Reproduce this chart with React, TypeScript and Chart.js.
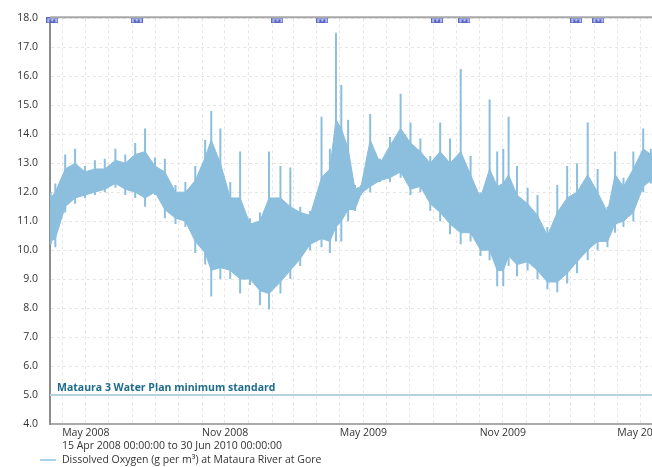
import React, { useEffect, useRef } from "react";
import { Chart, registerables } from "chart.js";

Chart.register(...registerables);

const startDate = "2008-04-15";
const endDate = "2010-06-30";

const dates = [
  "2008-04-16", "2008-04-22", "2008-05-05", "2008-05-18", "2008-05-31", "2008-06-13", "2008-06-26",
  "2008-07-10", "2008-07-23", "2008-08-05", "2008-08-18", "2008-08-31", "2008-09-13", "2008-09-27",
  "2008-10-10", "2008-10-23", "2008-11-05", "2008-11-13", "2008-11-25", "2008-12-08", "2008-12-21",
  "2009-01-03", "2009-01-16", "2009-01-28", "2009-02-12", "2009-02-25", "2009-03-10", "2009-03-23",
  "2009-04-07", "2009-04-18", "2009-04-26", "2009-05-03", "2009-05-12", "2009-05-21", "2009-05-29",
  "2009-06-10", "2009-06-23", "2009-07-06", "2009-07-20", "2009-08-02", "2009-08-15", "2009-08-28",
  "2009-09-10", "2009-09-23", "2009-10-07", "2009-10-20", "2009-11-02", "2009-11-14", "2009-11-24",
  "2009-12-02", "2009-12-09", "2009-12-20", "2010-01-03", "2010-01-16", "2010-01-29", "2010-02-11",
  "2010-02-24", "2010-03-09", "2010-03-23", "2010-04-05", "2010-04-18", "2010-04-28", "2010-05-09",
  "2010-05-22", "2010-06-04", "2010-06-14", "2010-06-27",
];

// extreme (spike) values per period, g/m³
const maxVals = [
  12.0, 12.3, 13.3, 13.5, 12.9, 13.1, 13.15,
  13.5, 13.3, 13.7, 14.2, 13.2, 13.15, 12.25,
  12.35, 12.9, 13.8, 14.8, 14.2, 12.35, 13.4,
  11.1, 11.3, 13.4, 12.9, 12.85, 11.5, 11.35,
  14.6, 13.5, 17.5, 15.7, 14.5, 12.25, 12.25,
  14.7, 13.15, 13.9, 15.4, 14.4, 13.85, 13.25,
  14.4, 13.85, 16.25, 13.25, 12.0, 15.2, 13.4,
  13.5, 14.6, 12.9, 12.15, 11.9, 10.8, 12.25,
  12.9, 13.0, 14.4, 12.8, 11.5, 13.4, 12.5,
  13.4, 14.2, 13.5, 13.0,
];
const minVals = [
  10.2, 10.1, 11.3, 11.6, 11.8, 11.9, 12.0,
  12.15, 11.9, 11.8, 11.5, 11.9, 11.1, 10.9,
  10.8, 9.9, 9.5, 8.4, 9.0, 9.0, 8.5,
  8.8, 8.1, 7.95, 8.5, 9.0, 9.45, 10.0,
  10.1, 9.9, 10.3, 10.3, 11.0, 11.35, 11.9,
  12.0, 12.35, 12.35, 12.5, 11.9, 12.0, 11.35,
  11.0, 10.55, 10.2, 10.3, 9.8, 9.65, 8.75,
  8.75, 9.45, 9.1, 9.3, 9.0, 8.65, 8.55,
  8.85, 9.2, 9.65, 10.0, 10.1, 10.6, 10.8,
  11.0, 12.0, 12.3, 12.2,
];
// dense daily range (upper / lower) per period
const coreHigh = [
  11.8, 12.0, 12.8, 13.0, 12.7, 12.8, 12.8,
  13.1, 13.0, 13.3, 13.4, 12.9, 12.7, 12.0,
  12.0, 12.4, 13.2, 13.8, 13.0, 11.8, 11.8,
  10.9, 11.0, 11.8, 11.8, 11.5, 11.3, 11.2,
  12.5, 12.8, 14.5, 14.2, 13.5, 12.1, 12.2,
  13.8, 13.0, 13.6, 14.2, 13.7, 13.4, 13.0,
  13.4, 13.0, 13.4, 12.6, 11.8, 12.8, 12.2,
  12.3, 12.6, 11.9, 11.6, 11.2, 10.5, 11.3,
  11.8, 12.0, 12.6, 12.0, 11.3, 12.6, 12.2,
  12.8, 13.5, 13.3, 12.9,
];
const coreLow = [
  10.3, 10.4, 11.5, 11.8, 11.9, 12.0, 12.1,
  12.3, 12.1, 12.0, 11.8, 12.0, 11.4, 11.1,
  11.0, 10.3, 9.9, 9.3, 9.4, 9.3, 9.0,
  9.0, 8.6, 8.5, 8.9, 9.3, 9.7, 10.2,
  10.4, 10.3, 10.8, 11.0, 11.4, 11.4, 11.95,
  12.2, 12.4, 12.5, 12.7, 12.1, 12.2, 11.6,
  11.3, 10.9, 10.6, 10.6, 10.0, 10.0, 9.3,
  9.3, 9.8, 9.5, 9.6, 9.3, 8.9, 8.9,
  9.2, 9.6, 10.0, 10.3, 10.3, 10.9, 11.0,
  11.3, 12.2, 12.4, 12.3,
];

const markerDates = [
  "2008-04-18", "2008-08-07", "2009-02-08", "2009-04-08",
  "2009-09-06", "2009-10-12", "2010-03-08", "2010-04-06",
];

const yMin = 4;
const yMax = 18;
const xTickLabels: Record<string, string> = {
  "2008-05-01": "May 2008",
  "2008-11-01": "Nov 2008",
  "2009-05-01": "May 2009",
  "2009-11-01": "Nov 2009",
  "2010-05-01": "May 2010",
};
const standardValue = 5.0;
const standardLabel = "Mataura 3 Water Plan minimum standard";
const rangeLabel = "15 Apr 2008 00:00:00 to 30 Jun 2010 00:00:00";
const seriesLabel = "Dissolved Oxygen (g per m³) at Mataura River at Gore";

const FONT = "'Open Sans', 'Noto Sans', sans-serif";
const SERIES = "#8cbedd";

function dayOf(s: string): number {
  const [y, m, d] = s.split("-").map(Number);
  const [y0, m0, d0] = startDate.split("-").map(Number);
  return Math.round((Date.UTC(y, m - 1, d) - Date.UTC(y0, m0 - 1, d0)) / 864e5);
}

function monthStarts(): { value: number; key: string }[] {
  const out: { value: number; key: string }[] = [];
  const [y0, m0] = startDate.split("-").map(Number);
  const endDay = dayOf(endDate);
  let y = y0;
  let m = m0 + 1;
  for (;;) {
    if (m > 12) { m = 1; y++; }
    const key = `${y}-${String(m).padStart(2, "0")}-01`;
    const v = dayOf(key);
    if (v > endDay) break;
    out.push({ value: v, key });
    m++;
  }
  return out;
}

function makeMarker(): HTMLCanvasElement {
  const c = document.createElement("canvas");
  c.width = 12;
  c.height = 6;
  const g = c.getContext("2d")!;
  g.fillStyle = "#b3bcec";
  g.fillRect(0, 0, 12, 6);
  g.strokeStyle = "#5a68c2";
  g.lineWidth = 1;
  g.strokeRect(0.5, 0.5, 11, 5);
  g.fillStyle = "#5a68c2";
  g.fillRect(3, 2, 2, 3);
  g.fillRect(7, 2, 2, 3);
  g.fillRect(3, 4, 6, 1);
  return c;
}

export default function App() {
  const ref = useRef<HTMLCanvasElement | null>(null);

  useEffect(() => {
    if (!ref.current) return;
    const days = dates.map(dayOf);
    const months = monthStarts();
    const labelByDay: Record<number, string> = {};
    months.forEach((mo) => {
      if (xTickLabels[mo.key]) labelByDay[mo.value] = xTickLabels[mo.key];
    });
    const endDay = dayOf(endDate);

    const spikes: { x: number; y: number | null }[] = [];
    days.forEach((d, i) => {
      spikes.push({ x: d, y: maxVals[i] });
      spikes.push({ x: d, y: minVals[i] });
      spikes.push({ x: d, y: null });
    });

    const overlay = {
      id: "overlay",
      afterDraw(chart: any) {
        const { ctx, chartArea } = chart;
        ctx.save();
        ctx.strokeStyle = "#a8a8a8";
        ctx.lineWidth = 2;
        ctx.beginPath();
        ctx.moveTo(chartArea.left, chartArea.top - 1);
        ctx.lineTo(chartArea.right, chartArea.top - 1);
        ctx.stroke();

        const yS = chart.scales.y;
        ctx.font = `bold 10.5px ${FONT}`;
        ctx.fillStyle = "#1d6c89";
        ctx.textBaseline = "alphabetic";
        ctx.textAlign = "left";
        ctx.fillText(standardLabel, chartArea.left + 7, yS.getPixelForValue(standardValue) - 4);

        ctx.font = `10.5px ${FONT}`;
        ctx.fillStyle = "#333";
        ctx.textBaseline = "middle";
        ctx.fillText(rangeLabel, 62, 446);
        ctx.fillText(seriesLabel, 62, 460);
        ctx.strokeStyle = "#a9d0e8";
        ctx.lineWidth = 2;
        ctx.beginPath();
        ctx.moveTo(40, 460);
        ctx.lineTo(56, 460);
        ctx.stroke();
        ctx.restore();
      },
    };

    const chart = new Chart(ref.current, {
      type: "line",
      data: {
        datasets: [
          {
            label: "standard",
            data: [{ x: 0, y: standardValue }, { x: endDay, y: standardValue }],
            borderColor: "#b4d2e0",
            borderWidth: 2,
            pointRadius: 0,
            fill: false,
          },
          {
            label: "coreHigh",
            data: days.map((d, i) => ({ x: d, y: coreHigh[i] })),
            borderColor: SERIES,
            backgroundColor: SERIES,
            borderWidth: 1,
            pointRadius: 0,
            fill: "+1",
          },
          {
            label: "coreLow",
            data: days.map((d, i) => ({ x: d, y: coreLow[i] })),
            borderColor: SERIES,
            borderWidth: 1,
            pointRadius: 0,
            fill: false,
          },
          {
            label: seriesLabel,
            data: spikes as any,
            borderColor: SERIES,
            borderWidth: 2,
            pointRadius: 0,
            spanGaps: false,
            fill: false,
          },
          {
            type: "scatter",
            label: "markers",
            data: markerDates.map((s) => ({ x: dayOf(s), y: 17.93 })),
            pointStyle: makeMarker() as any,
            pointRadius: 6,
            clip: false as any,
          } as any,
        ],
      },
      options: {
        animation: false,
        responsive: false,
        maintainAspectRatio: false,
        layout: { padding: { top: 10, right: 37, left: 0, bottom: 0 } },
        plugins: { legend: { display: false }, tooltip: { enabled: false } },
        scales: {
          x: {
            type: "linear",
            min: 0,
            max: endDay,
            afterBuildTicks: (scale: any) => {
              scale.ticks = months.map((m) => ({ value: m.value }));
            },
            afterFit: (scale: any) => {
              scale.height = 43;
            },
            ticks: {
              autoSkip: false,
              minRotation: 0,
              maxRotation: 0,
              align: "start",
              padding: 3,
              color: "#333",
              font: { family: FONT, size: 10.5 },
              callback: (v: any) => labelByDay[Number(v)] || "",
            },
            grid: { color: "#e6e6e6", drawTicks: false, lineWidth: 1 },
            border: { display: true, color: "#aaaaaa", width: 2, dash: [3, 3] },
          },
          y: {
            min: yMin,
            max: yMax,
            afterFit: (scale: any) => {
              scale.width = 50;
            },
            ticks: {
              stepSize: 1,
              padding: 12,
              color: "#333",
              font: { family: FONT, size: 10.5 },
              callback: (v: any) => Number(v).toFixed(1),
            },
            grid: { color: "#e6e6e6", drawTicks: false, lineWidth: 1 },
            border: { display: true, color: "#8c8c8c", width: 2, dash: [3, 3] },
          },
        },
      },
      plugins: [overlay],
    } as any);
    return () => chart.destroy();
  }, []);

  return (
    <div style={{ position: "fixed", left: 0, top: 0, width: 652, height: 467, overflow: "hidden", background: "#fff" }}>
      <canvas ref={ref} width={700} height={467} style={{ width: 700, height: 467, display: "block" }} />
    </div>
  );
}
